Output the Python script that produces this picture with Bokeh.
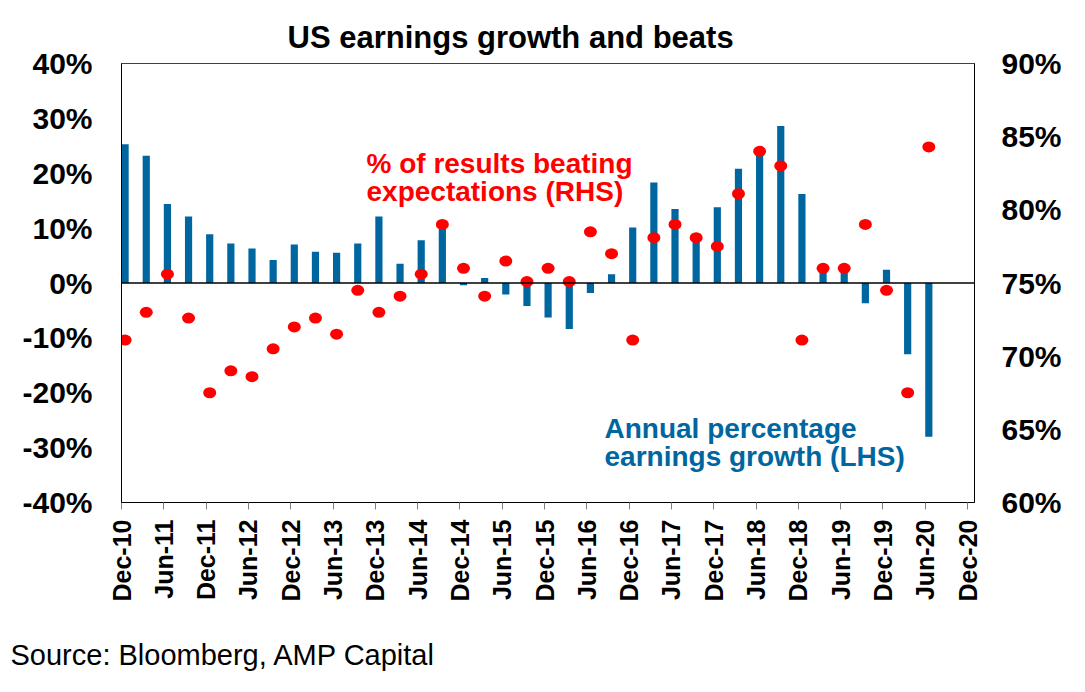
from bokeh.plotting import figure
from bokeh.models import Range1d, LinearAxis, FixedTicker, Span, Label, Title
from bokeh.embed import file_html
from bokeh.resources import INLINE

# ---- data (quarterly, Dec-10 .. Jun-20) ----
growth = [25.3, 23.2, 14.4, 12.1, 8.9, 7.2, 6.3, 4.2, 7.0, 5.7,
          5.5, 7.2, 12.1, 3.5, 7.8, 10.8, -0.4, 0.9, -2.1, -4.2,
          -6.3, -8.4, -1.8, 1.6, 10.1, 18.3, 13.5, 7.8, 13.8, 20.8,
          23.8, 28.6, 16.2, 2.3, 2.3, -3.7, 2.4, -13.0, -28.0]
beats = [71.1, 73.0, 75.6, 72.6, 67.5, 69.0, 68.6, 70.5, 72.0, 72.6,
         71.5, 74.5, 73.0, 74.1, 75.6, 79.0, 76.0, 74.1, 76.5, 75.1,
         76.0, 75.1, 78.5, 77.0, 71.1, 78.1, 79.0, 78.1, 77.5, 81.1,
         84.0, 83.0, 71.1, 76.0, 76.0, 79.0, 74.5, 67.5, 84.3]
tick_labels = ["Dec-10", "Jun-11", "Dec-11", "Jun-12", "Dec-12", "Jun-13",
               "Dec-13", "Jun-14", "Dec-14", "Jun-15", "Dec-15", "Jun-16",
               "Dec-16", "Jun-17", "Dec-17", "Jun-18", "Dec-18", "Jun-19",
               "Dec-19", "Jun-20", "Dec-20"]
lhs_ticks = [-40, -30, -20, -10, 0, 10, 20, 30, 40]
rhs_ticks = [60, 65, 70, 75, 80, 85, 90]

FONT = "Liberation Sans"
BLUE = "#0066A0"
RED = "#FF0000"

xs = [i + 0.17 for i in range(len(growth))]
tick_pos = [2 * i for i in range(len(tick_labels))]

p = figure(width=1077, height=684,
           x_range=Range1d(0, 40.33), y_range=Range1d(-40, 40),
           output_backend="svg", toolbar_location=None,
           min_border_left=121, min_border_right=103,
           min_border_top=63, min_border_bottom=182)
p.extra_y_ranges = {"rhs": Range1d(60, 90)}
p.xgrid.visible = False
p.ygrid.visible = False
p.outline_line_color = "#404040"
p.outline_line_width = 1
p.background_fill_color = "white"
p.border_fill_color = "white"

# title
p.title = Title(text="US earnings growth and beats", align="left", offset=166,
                text_font=FONT, text_font_style="bold", text_font_size="31px",
                text_color="black", standoff=17)

# x axis
xa = p.xaxis[0]
xa.ticker = FixedTicker(ticks=tick_pos)
xa.major_label_overrides = {t: l for t, l in zip(tick_pos, tick_labels)}
xa.major_label_orientation = 1.5708
xa.major_label_text_font = FONT
xa.major_label_text_font_style = "bold"
xa.major_label_text_font_size = "25px"
xa.major_label_text_color = "black"
xa.major_tick_out = 7
xa.major_tick_in = 0
xa.major_tick_line_color = "#808080"
xa.minor_tick_line_color = None
xa.axis_line_color = "black"
xa.major_label_standoff = 10

# left axis
ya = p.yaxis[0]
ya.ticker = FixedTicker(ticks=lhs_ticks)
ya.major_label_overrides = {t: f"{t}%" for t in lhs_ticks}
ya.major_label_text_font = FONT
ya.major_label_text_font_style = "bold"
ya.major_label_text_font_size = "30px"
ya.major_label_text_color = "black"
ya.major_tick_line_color = None
ya.minor_tick_line_color = None
ya.major_tick_out = 0
ya.major_label_standoff = 29
ya.axis_line_color = "black"

# right axis
ra = LinearAxis(y_range_name="rhs")
ra.ticker = FixedTicker(ticks=rhs_ticks)
ra.major_label_overrides = {t: f"{t}%" for t in rhs_ticks}
ra.major_label_text_font = FONT
ra.major_label_text_font_style = "bold"
ra.major_label_text_font_size = "30px"
ra.major_label_text_color = "black"
ra.major_tick_line_color = None
ra.minor_tick_line_color = None
ra.major_tick_out = 0
ra.major_label_standoff = 27
ra.axis_line_color = "black"
p.add_layout(ra, "right")

# bars
p.vbar(x=xs, top=growth, bottom=0, width=0.34, fill_color=BLUE, line_color=None)
p.add_layout(Span(location=0, dimension="width", line_color="black", line_width=1.5))

# dots
p.ellipse(x=xs, y=beats, width=13, height=11, width_units="screen",
          height_units="screen", fill_color=RED, line_color=None,
          y_range_name="rhs")

# annotations
for txt, yy in [("% of results beating", 339), ("expectations (RHS)", 311.5)]:
    p.add_layout(Label(x=245, y=yy, x_units="screen", y_units="screen", text=txt,
                       text_baseline="alphabetic", text_font=FONT,
                       text_font_style="bold", text_font_size="28px", text_color=RED))
for txt, yy in [("Annual percentage", 74), ("earnings growth (LHS)", 46)]:
    p.add_layout(Label(x=483, y=yy, x_units="screen", y_units="screen", text=txt,
                       text_baseline="alphabetic", text_font=FONT,
                       text_font_style="bold", text_font_size="28px", text_color=BLUE))

# source
p.add_layout(Title(text="\nSource: Bloomberg, AMP Capital", align="left", offset=-111,
                   text_font=FONT, text_font_style="normal", text_font_size="29px",
                   text_color="black", standoff=0), "below")

open("out.html", "w").write(file_html(p, INLINE))
